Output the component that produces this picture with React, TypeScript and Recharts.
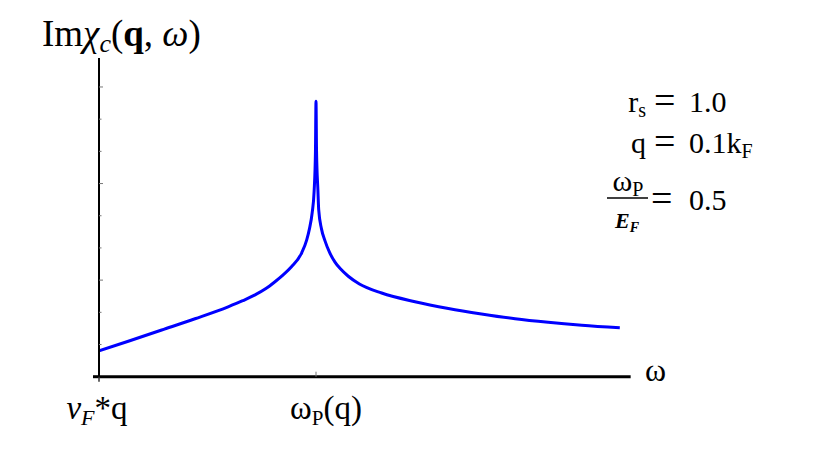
import React from 'react';
import { LineChart, Line, XAxis, YAxis } from 'recharts';

// omega in units where v_F*q sits at 0 and omega_P(q) at 4 on the drawn axis
const omegaValues = [0, 0.54, 1.156, 1.77, 2.38, 2.65, 2.876, 3.07, 3.244, 3.4, 3.552, 3.737, 3.829, 3.88, 3.93, 3.965, 3.99, 4.0, 4.01, 4.035, 4.05, 4.1, 4.166, 4.25, 4.35, 4.45, 4.595, 4.8, 5.21, 5.825, 6.44, 7.05, 7.67, 8.28, 8.9, 9.6];
const imChiValues = [0.8, 1.1, 1.45, 1.8, 2.17, 2.36, 2.54, 2.73, 2.95, 3.17, 3.42, 3.85, 4.25, 4.6, 5.1, 5.75, 7.0, 8.56, 7.0, 5.8, 5.18, 4.6, 4.22, 3.86, 3.56, 3.35, 3.12, 2.88, 2.6, 2.33, 2.12, 1.95, 1.8, 1.69, 1.6, 1.52];
const xTicks = [0, 4];
const yTicks = [1, 2, 3, 4, 5, 6, 7, 8, 9];

const data = omegaValues.map((w, i) => ({ omega: w, im: imChiValues[i] }));

const FONT = "'Liberation Serif', 'DejaVu Serif', serif";

const XTick = (props: any) => {
  const { x, y, payload } = props;
  if (payload.value === 0) {
    return (
      <g>
        <line x1={x - 6} x2={x} y1={y} y2={y} stroke="#000" strokeWidth={3} />
        <line x1={x} x2={x} y1={y} y2={y + 5} stroke="#333" strokeWidth={1.5} />
        <text x={x - 2} y={y + 42} textAnchor="middle" fontFamily={FONT} fontSize={33} fill="#000">
          <tspan fontStyle="italic">v</tspan>
          <tspan fontStyle="italic" fontSize={22} dy={6}>F</tspan>
          <tspan dy={-6}>*q</tspan>
        </text>
      </g>
    );
  }
  return (
    <g>
      <line x1={x} x2={x} y1={y - 5} y2={y} stroke="#777" strokeWidth={1} />
      <text x={x + 10} y={y + 42} textAnchor="middle" fontFamily={FONT} fontSize={33} fill="#000">
        <tspan>ω</tspan>
        <tspan fontSize={21} dy={6}>P</tspan>
        <tspan dy={-6}>(q)</tspan>
      </text>
    </g>
  );
};

const YTick = (props: any) => {
  const { x, y, payload } = props;
  const len = payload.value % 3 === 0 ? 4 : 2.5;
  return <line x1={x} x2={x + len} y1={y} y2={y} stroke="#777" strokeWidth={1} />;
};

export default function App() {
  return (
    <div style={{ position: 'relative', width: 814, height: 451 }}>
      <LineChart
        width={814}
        height={451}
        data={data}
        margin={{ top: 50, right: 191.35, bottom: 52.3, left: 61 }}
      >
        <XAxis
          type="number"
          dataKey="omega"
          domain={[0, 9.8]}
          ticks={xTicks}
          height={30}
          tickSize={0}
          tickMargin={0}
          tickLine={false}
          tick={<XTick />}
          axisLine={{ stroke: '#000', strokeWidth: 3 }}
          allowDataOverflow
          interval={0}
        />
        <YAxis
          type="number"
          domain={[0, 9.9]}
          ticks={yTicks}
          width={30}
          tickSize={0}
          tickMargin={0}
          tickLine={false}
          tick={<YTick />}
          axisLine={{ stroke: '#000', strokeWidth: 2 }}
          allowDataOverflow
          interval={0}
        />
        <Line
          type="monotoneX"
          dataKey="im"
          stroke="#0000ff"
          strokeWidth={3}
          dot={false}
          isAnimationActive={false}
        />
      </LineChart>
      <svg
        width={814}
        height={451}
        style={{ position: 'absolute', left: 0, top: 0, pointerEvents: 'none' }}
        fontFamily={FONT}
      >
        <text x={34} y={38} fontSize={37} fill="#000">
          <tspan>Im</tspan>
          <tspan fontStyle="italic">χ</tspan>
          <tspan fontStyle="italic" fontSize={26} dy={6}>c</tspan>
          <tspan dy={-6}>(</tspan>
          <tspan fontWeight="bold">q</tspan>
          <tspan>, </tspan>
          <tspan fontStyle="italic">ω</tspan>
          <tspan>)</tspan>
        </text>
        <text x={637} y={373} fontSize={32} fill="#000">ω</text>

        <text x={638} y={104} fontSize={30} textAnchor="end" fill="#000">
          <tspan>r</tspan>
          <tspan fontSize={20} dy={5}>s</tspan>
        </text>
        <text x={646} y={105} fontSize={38} fill="#000">=</text>
        <text x={681} y={104} fontSize={30} fill="#000">1.0</text>

        <text x={638} y={145} fontSize={30} textAnchor="end" fill="#000">q</text>
        <text x={646} y={146} fontSize={38} fill="#000">=</text>
        <text x={681} y={145} fontSize={30} fill="#000">
          <tspan>0.1k</tspan>
          <tspan fontSize={20} dy={5}>F</tspan>
        </text>

        <text x={620} y={183} fontSize={30} textAnchor="middle" fill="#000">
          <tspan>ω</tspan>
          <tspan fontSize={20} dy={5}>P</tspan>
        </text>
        <line x1={599} x2={640} y1={190} y2={190} stroke="#000" strokeWidth={1.5} />
        <text x={619} y={220} fontSize={22} textAnchor="middle" fill="#000" fontWeight="bold" fontStyle="italic">
          <tspan>E</tspan>
          <tspan fontSize={14} dy={4}>F</tspan>
        </text>
        <text x={643} y={203} fontSize={38} fill="#000">=</text>
        <text x={681} y={202} fontSize={30} fill="#000">0.5</text>
      </svg>
    </div>
  );
}
